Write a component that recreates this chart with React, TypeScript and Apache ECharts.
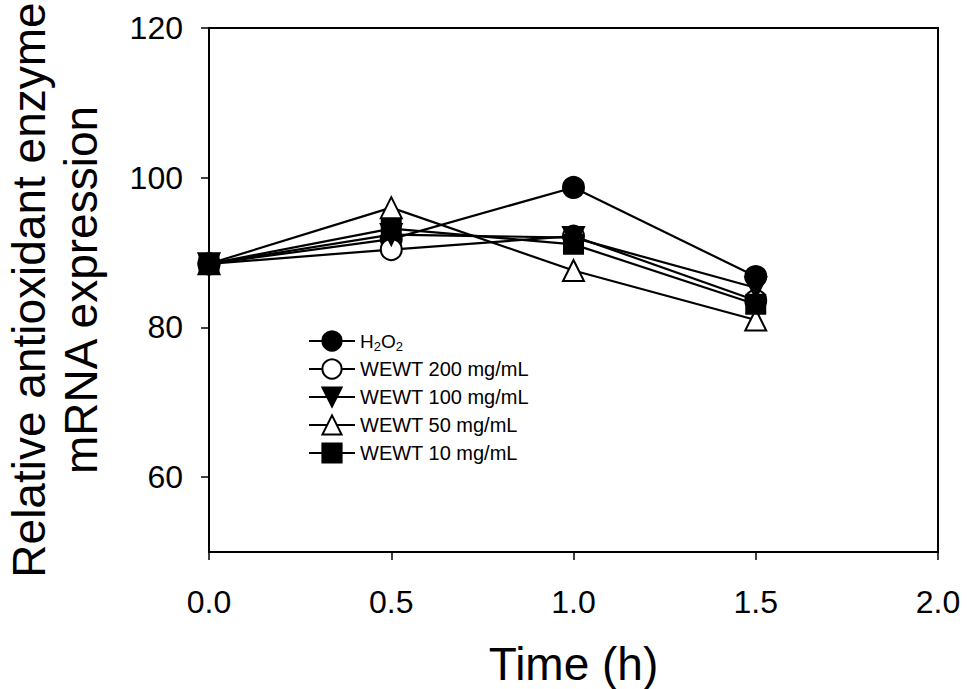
import React, { useEffect, useRef } from "react";
import * as echarts from "echarts";

const timePoints = [0, 0.5, 1.0, 1.5];
const seriesNames = ["H2O2", "WEWT 200 mg/mL", "WEWT 100 mg/mL", "WEWT 50 mg/mL", "WEWT 10 mg/mL"];
const h2o2 = [88.5, 91.8, 98.7, 86.8];
const wewt200 = [88.5, 90.4, 92.2, 83.6];
const wewt100 = [88.5, 92.4, 92.0, 85.3];
const wewt50 = [88.5, 96.0, 87.6, 81.0];
const wewt10 = [88.5, 93.2, 91.1, 83.1];
const yTicks = [60, 80, 100, 120];
const xTicks = [0, 0.5, 1.0, 1.5, 2.0];

const FONT = "Liberation Sans, Arial, sans-serif";

export default function App() {
  const ref = useRef<HTMLDivElement>(null);
  useEffect(() => {
    if (!ref.current) return;
    const chart = echarts.init(ref.current, undefined, { renderer: "svg" });
    const values = [h2o2, wewt200, wewt100, wewt50, wewt10];
    const symbols = ["circle", "circle", "triangle", "triangle", "rect"];
    const fills = ["#000", "#fff", "#000", "#fff", "#000"];
    const rotates = [0, 0, 180, 0, 0];
    const sizes = [21, 21, 21, 21, 19];
    const series = seriesNames.map((name, i) => ({
      name,
      type: "line",
      data: timePoints.map((t, j) => [t, values[i][j]]),
      symbol: symbols[i],
      symbolSize: sizes[i],
      symbolRotate: rotates[i],
      showAllSymbol: true,
      lineStyle: { color: "#000", width: 2.2 },
      itemStyle: { color: fills[i], borderColor: "#000", borderWidth: 2 },
      z: 2 + i,
    }));
    chart.setOption({
      animation: false,
      backgroundColor: "#fff",
      grid: {
        left: 209,
        right: 29,
        top: 28,
        bottom: 137,
        show: true,
        borderColor: "#000",
        borderWidth: 2,
        containLabel: false,
        outerBoundsMode: "none",
      },
      legend: {
        orient: "vertical",
        left: 303,
        top: 324,
        itemWidth: 46,
        itemHeight: 24,
        itemGap: 4,
        data: seriesNames,
        textStyle: {
          fontFamily: FONT,
          fontSize: 20,
          lineHeight: 24,
          color: "#000",
          rich: {
            a: { fontFamily: FONT, fontSize: 19, color: "#000", lineHeight: 24 },
            s: { fontFamily: FONT, fontSize: 13, color: "#000", padding: [10, 0, 0, 0] },
          },
        },
        formatter: (name: string) =>
          name === "H2O2" ? "{a|H}{s|2}{a|O}{s|2}" : name,
      },
      xAxis: {
        type: "value",
        min: 0,
        max: 2,
        interval: 0.5,
        name: "Time (h)",
        nameLocation: "middle",
        nameGap: 89,
        nameTextStyle: { fontFamily: FONT, fontSize: 46, color: "#000" },
        axisLine: { show: true, lineStyle: { color: "#000", width: 2 } },
        axisTick: { show: true, inside: false, length: 8, lineStyle: { color: "#000", width: 1.5 }, customValues: xTicks },
        axisLabel: {
          margin: 34,
          fontFamily: FONT,
          fontSize: 32,
          color: "#000",
          customValues: xTicks,
          formatter: (v: number) => v.toFixed(1),
        },
        splitLine: { show: false },
      },
      yAxis: {
        type: "value",
        min: 50,
        max: 120,
        name: "Relative antioxidant enzyme\nmRNA expression",
        nameLocation: "middle",
        nameGap: 102,
        nameTextStyle: { fontFamily: FONT, fontSize: 46, color: "#000", lineHeight: 52 },
        axisLine: { show: true, lineStyle: { color: "#000", width: 2 } },
        axisTick: { show: true, inside: false, length: 8, lineStyle: { color: "#000", width: 1.5 }, customValues: yTicks },
        axisLabel: {
          margin: 26,
          fontFamily: FONT,
          fontSize: 32,
          color: "#000",
          customValues: yTicks,
        },
        splitLine: { show: false },
      },
      series,
    });
    return () => chart.dispose();
  }, []);
  return <div ref={ref} style={{ width: 967, height: 689, position: "absolute", left: 0, top: 0 }} />;
}
